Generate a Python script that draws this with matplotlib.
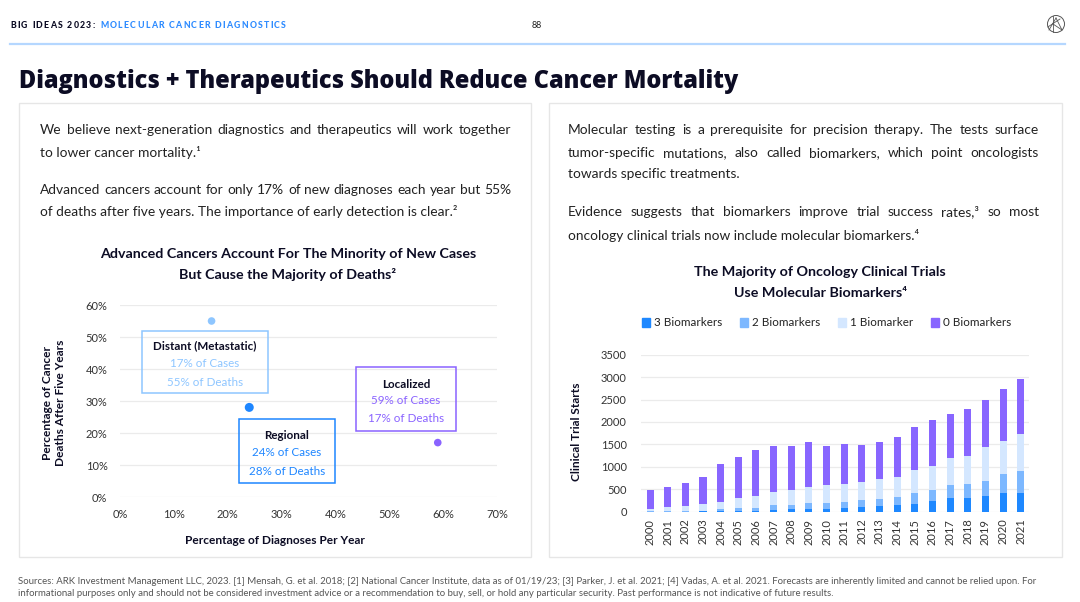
import matplotlib
matplotlib.use('Agg')
import matplotlib.pyplot as plt
from matplotlib.patches import Rectangle, Circle
from matplotlib.lines import Line2D
import numpy as np

# ---------------- data ----------------
stage_names = ['Distant (Metastatic)', 'Regional', 'Localized']
pct_cases = [17, 24, 59]
pct_deaths = [55, 28, 17]
stage_colors = ['#8EC6FF', '#1E86FF', '#8A63FF']

scatter_xticks = [0, 10, 20, 30, 40, 50, 60, 70]
scatter_yticks = [0, 10, 20, 30, 40, 50, 60]

years = ['2000', '2001', '2002', '2003', '2004', '2005', '2006', '2007', '2008', '2009', '2010',
         '2011', '2012', '2013', '2014', '2015', '2016', '2017', '2018', '2019', '2020', '2021']
bio3 = [0, 0, 0, 5, 20, 10, 15, 45, 60, 60, 60, 90, 105, 135, 140, 170, 240, 305, 305, 355, 415, 415]
bio2 = [10, 10, 15, 20, 30, 80, 75, 95, 95, 135, 140, 125, 155, 150, 180, 255, 245, 290, 305, 330, 415, 485]
bio1 = [50, 85, 115, 140, 165, 220, 260, 305, 335, 365, 400, 400, 410, 455, 455, 510, 540, 600, 630, 750, 745, 840]
bio0 = [430, 460, 520, 615, 850, 920, 1025, 1010, 975, 1000, 865, 890, 810, 815, 890, 960, 1010, 975, 1055, 1065, 1150, 1225]
bar_yticks = [0, 500, 1000, 1500, 2000, 2500, 3000, 3500]
series_labels = ['3 Biomarkers', '2 Biomarkers', '1 Biomarker', '0 Biomarkers']
series_colors = ['#1E88FF', '#7DB8FF', '#D4E7FF', '#8866FF']

# ---------------- figure ----------------
W, H = 1080, 602
FAM = ['Lato', 'DejaVu Sans']
NAVY = '#0C0C24'
TXT = '#222222'
fig = plt.figure(figsize=(W / 100, H / 100), dpi=100)
bg = fig.add_axes([0, 0, 1, 1], zorder=0)
bg.set_xlim(0, W)
bg.set_ylim(H, 0)
bg.axis('off')
renderer = fig.canvas.get_renderer()


def fx(x):
    return x / W


def fy(y):
    return 1 - y / H


def width_of(t):
    return t.get_window_extent(renderer).width


def tracked(x, y, s, size, color, weight, track):
    for ch in s:
        t = bg.text(x, y, ch, fontsize=size, color=color, fontweight=weight, family=FAM, va='baseline')
        x += width_of(t) + track
    return x


def justify(line, x0, x1, y, size, color=TXT):
    words = line.split(' ')
    ts = [bg.text(0, y, w, fontsize=size, family=FAM, color=color, va='baseline') for w in words]
    ws = [width_of(t) for t in ts]
    gap = (x1 - x0 - sum(ws)) / (len(words) - 1)
    x = x0
    for t, w in zip(ts, ws):
        t.set_x(x)
        x += w + gap


def plain(line, x0, y, size, color=TXT):
    bg.text(x0, y, line, fontsize=size, family=FAM, color=color, va='baseline')


# header
xe = tracked(10, 28, 'BIG IDEAS 2023:', 6.3, NAVY, 'black', 1.3)
tracked(xe + 4, 28, 'MOLECULAR CANCER DIAGNOSTICS', 6.3, '#2F8CFF', 'black', 1.3)
bg.text(537, 28, '88', fontsize=6.5, family=FAM, color=TXT, va='baseline', ha='center')
bg.add_line(Line2D([10, 1065], [44, 44], color='#B5D7FF', lw=1.6))
# logo
bg.add_patch(Circle((1056, 24), 8.5, fill=False, ec='#555555', lw=0.7))
for (xa, ya, xb, yb) in [(1053, 15.7, 1053, 32.3), (1047.8, 27, 1060, 19), (1053, 24, 1062, 30),
                         (1049, 30, 1056, 18), (1056, 18, 1062, 30)]:
    bg.add_line(Line2D([xa, xb], [ya, yb], color='#555555', lw=0.6))

# title (fit to the reference width)
tt = bg.text(19, 88, 'Diagnostics + Therapeutics Should Reduce Cancer Mortality', fontsize=16.8,
             fontweight='heavy', family=['Open Sans', 'Lato', 'DejaVu Sans'], color=NAVY, va='baseline')
tt.set_fontsize(16.8 * (741 - 19) / width_of(tt))

# panels
for (x0, x1) in [(19, 531), (549, 1062)]:
    bg.add_patch(Rectangle((x0, 103), x1 - x0, 454, fill=False, ec='#E6E6E6', lw=1.0))

BS = 9.9
justify('We believe next-generation diagnostics and therapeutics will work together', 40, 511, 133.5, BS)
plain('to lower cancer mortality.¹', 40, 156.8, BS)
justify('Advanced cancers account for only 17% of new diagnoses each year but 55%', 40, 511, 193.5, BS)
plain('of deaths after five years. The importance of early detection is clear.²', 40, 216.3, BS)

justify('Molecular testing is a prerequisite for precision therapy. The tests surface', 568, 1039, 133.5, BS)
justify('tumor-specific mutations, also called biomarkers, which point oncologists', 568, 1039, 156.8, BS)
plain('towards specific treatments.', 568, 178.5, BS)
justify('Evidence suggests that biomarkers improve trial success rates,³ so most', 568, 1039, 216.3, BS)
plain('oncology clinical trials now include molecular biomarkers.⁴', 568, 239.5, BS)

TS = 10.3
bg.text(288, 258.5, 'Advanced Cancers Account For The Minority of New Cases', fontsize=TS, fontweight='bold',
        family=FAM, color=NAVY, ha='center', va='baseline')
bg.text(288, 279, 'But Cause the Majority of Deaths²', fontsize=TS, fontweight='bold',
        family=FAM, color=NAVY, ha='center', va='baseline')
bg.text(820, 276, 'The Majority of Oncology Clinical Trials', fontsize=TS, fontweight='bold',
        family=FAM, color=NAVY, ha='center', va='baseline')
bg.text(820, 297, 'Use Molecular Biomarkers⁴', fontsize=TS, fontweight='bold',
        family=FAM, color=NAVY, ha='center', va='baseline')

# ---------------- scatter ----------------
ax = fig.add_axes([fx(120), fy(497), (497 - 120) / W, (497 - 305) / H], zorder=2)
ax.patch.set_alpha(0)
ax.set_xlim(0, 70)
ax.set_ylim(0, 60)
ax.set_xticks(scatter_xticks)
ax.set_xticklabels([f'{v}%' for v in scatter_xticks])
ax.set_yticks(scatter_yticks)
ax.set_yticklabels([f'{v}%' for v in scatter_yticks])
for s in ax.spines.values():
    s.set_visible(False)
ax.grid(axis='y', color='#EBEBEB', lw=0.9)
ax.set_axisbelow(True)
ax.tick_params(length=0, labelsize=8, labelcolor='#333333', pad=9)
for lab in ax.get_xticklabels() + ax.get_yticklabels():
    lab.set_family(FAM)
sizes = [30, 42, 30]
ax.scatter(pct_cases, pct_deaths, s=sizes, c=stage_colors, zorder=3, linewidths=0)

boxes = [(4.1, 32.5, 27.5, 51.9), (22.1, 4.4, 39.9, 24.4), (43.8, 20.6, 62.4, 40.6)]
centers = [(15.8, [47.2, 41.6, 35.9]), (31.0, [19.1, 13.75, 8.1]), (53.1, [35.3, 30.0, 24.4])]
for i in range(3):
    x0, y0, x1, y1 = boxes[i]
    ax.add_patch(Rectangle((x0, y0), x1 - x0, y1 - y0, fill=False, ec=stage_colors[i], lw=1.1, zorder=4))
    cx, ys = centers[i]
    ax.text(cx, ys[0], stage_names[i], fontsize=8.4, fontweight='bold', color=NAVY, family=FAM,
            ha='center', va='center')
    ax.text(cx, ys[1], f'{pct_cases[i]}% of Cases', fontsize=8.4, color=stage_colors[i], family=FAM,
            ha='center', va='center')
    ax.text(cx, ys[2], f'{pct_deaths[i]}% of Deaths', fontsize=8.4, color=stage_colors[i], family=FAM,
            ha='center', va='center')

bg.text(275, 540, 'Percentage of Diagnoses Per Year', fontsize=8.6, fontweight='bold', family=FAM,
        color=NAVY, ha='center', va='center')
bg.text(54, 403, 'Percentage of Cancer\nDeaths After Five Years', fontsize=8.6, fontweight='bold',
        family=FAM, color=NAVY, ha='center', va='center', rotation=90, linespacing=1.25)

# ---------------- stacked bars ----------------
bx = fig.add_axes([fx(640.7), fy(511.7), (1029 - 640.7) / W, (511.7 - 354.7) / H], zorder=2)
bx.patch.set_alpha(0)
idx = np.arange(len(years))
bottom = np.zeros(len(years))
for vals, col, lab in zip([bio3, bio2, bio1, bio0], series_colors, series_labels):
    bx.bar(idx, vals, bottom=bottom, width=0.4, color=col, label=lab, zorder=3)
    bottom += np.array(vals)
bx.set_xlim(-0.53, 21.47)
bx.set_ylim(0, 3500)
bx.set_yticks(bar_yticks)
bx.set_xticks(idx)
bx.set_xticklabels(years, rotation=90)
for s in bx.spines.values():
    s.set_visible(False)
bx.grid(axis='y', color='#EBEBEB', lw=0.9)
bx.set_axisbelow(True)
bx.tick_params(length=0, labelsize=8, labelcolor='#333333')
bx.tick_params(axis='y', pad=10)
bx.tick_params(axis='x', pad=5)
for lab in bx.get_xticklabels() + bx.get_yticklabels():
    lab.set_family(FAM)
bg.text(576, 432, 'Clinical Trial Starts', fontsize=8.6, fontweight='bold', family=FAM, color=NAVY,
        ha='center', va='center', rotation=90)

handles = [Rectangle((0, 0), 1, 1, color=c) for c in series_colors]
fig.legend(handles, series_labels, loc='center', bbox_to_anchor=(fx(827), fy(323)), ncol=4, frameon=False,
           prop={'family': FAM, 'size': 8.4}, handlelength=0.7, handleheight=0.7, handletextpad=0.35,
           columnspacing=1.5, labelcolor=TXT)

# ---------------- footer ----------------
foot1 = ('Sources: ARK Investment Management LLC, 2023. [1] Mensah, G. et al. 2018; [2] National Cancer Institute, '
         'data as of 01/19/23; [3] Parker, J. et al. 2021; [4] Vadas, A. et al. 2021. Forecasts are inherently '
         'limited and cannot be relied upon. For')
foot2 = ('informational purposes only and should not be considered investment advice or a recommendation to buy, '
         'sell, or hold any particular security. Past performance is not indicative of future results.')
FF = ['Liberation Sans Narrow', 'Lato', 'DejaVu Sans']
t1 = bg.text(18, 584, foot1, fontsize=6.5, family=FF, color='#555555', va='baseline')
scale = (1032 - 18) / width_of(t1)
t1.set_fontsize(6.5 * scale)
bg.text(18, 596, foot2, fontsize=6.5 * scale, family=FF, color='#555555', va='baseline')

fig.savefig('out.png', dpi=100)
